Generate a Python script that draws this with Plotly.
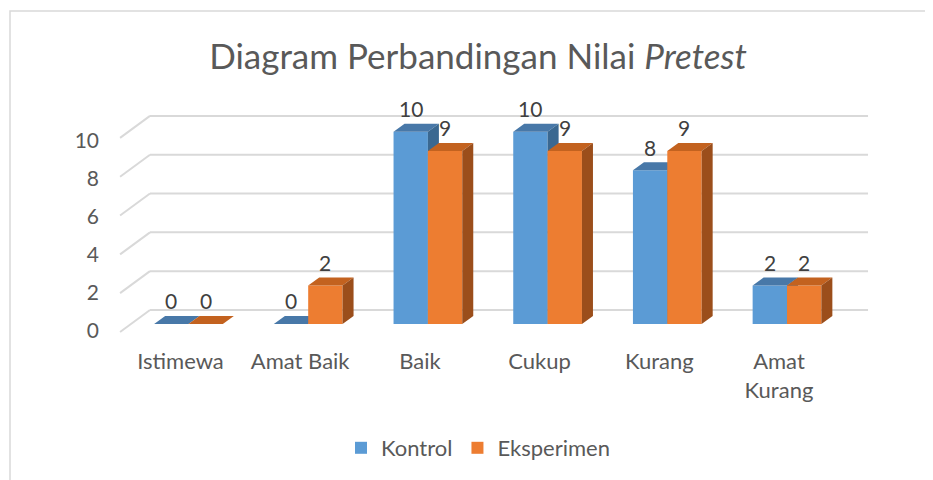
import plotly.graph_objects as go

# ---------------- data ----------------
categories = ["Istimewa", "Amat Baik", "Baik", "Cukup", "Kurang", "Amat Kurang"]
kontrol = [0, 0, 10, 10, 8, 2]
eksperimen = [0, 2, 9, 9, 9, 2]
y_tick_values = [0, 2, 4, 6, 8, 10]
series_names = ["Kontrol", "Eksperimen"]

# ---------------- styling ----------------
FONT = "Lato"
TXT = "#595959"
LBL = "#404040"
GRID = "#D9D9D9"
FRONT = ["#5B9BD5", "#ED7D31"]
TOP = ["#4878A8", "#C3621F"]
SIDE = ["#3A6891", "#9B4E1B"]

PAGE = 8   # body margin of the html page
ML, MT = 100 - PAGE, 100 - PAGE
PW, PH = 780, 246
W, H = 933, 480

BAR_W = 0.287
DX, DY = 0.092, 0.416
X_RANGE = [-0.7393, 5.7770]
Y_RANGE = [11.648 - PH / 19.23, 11.648]

idx = list(range(len(categories)))

fig = go.Figure()

def faces(values, sign, xa, ya, k):
    centers = [i + sign * BAR_W / 2 for i in idx]
    fig.add_trace(go.Bar(
        x=centers, y=values, width=BAR_W, name=series_names[k],
        marker=dict(color=FRONT[k], line=dict(width=0)),
        xaxis=xa, yaxis=ya, showlegend=True,
    ))
    tx, ty = [], []
    for c, v in zip(centers, values):
        x0, x1 = c - BAR_W / 2, c + BAR_W / 2
        tx += [x0, x1, x1 + DX, x0 + DX, x0, None]
        ty += [v, v, v + DY, v + DY, v, None]
    fig.add_trace(go.Scatter(x=tx, y=ty, fill="toself", fillcolor=TOP[k],
                             mode="lines", line=dict(width=0), hoverinfo="skip",
                             showlegend=False, xaxis=xa, yaxis=ya))
    sx, sy = [], []
    for c, v in zip(centers, values):
        x1 = c + BAR_W / 2
        sx += [x1, x1, x1 + DX, x1 + DX, x1, None]
        sy += [0, v, v + DY, DY, 0, None]
    fig.add_trace(go.Scatter(x=sx, y=sy, fill="toself", fillcolor=SIDE[k],
                             mode="lines", line=dict(width=0), hoverinfo="skip",
                             showlegend=False, xaxis=xa, yaxis=ya))
    for c, v in zip(centers, values):
        fig.add_annotation(x=c, y=v, xref=xa, yref=ya, text=str(v),
                           showarrow=False, yshift=23,
                           font=dict(family=FONT, size=21, color=LBL))

faces(kontrol, -1, "x", "y", 0)
faces(eksperimen, 1, "x2", "y2", 1)

BACK_X0, BACK_X1 = -0.3216, 5.677
DIAG_DX, DIAG_DY = -0.25, -1.144
for v in y_tick_values:
    yb = 0.73 + 1.009 * v
    fig.add_shape(type="line", xref="x", yref="y", x0=BACK_X0, x1=BACK_X1,
                  y0=yb, y1=yb, line=dict(color=GRID, width=2), layer="below")
    fig.add_shape(type="line", xref="x", yref="y", x0=BACK_X0, x1=BACK_X0 + DIAG_DX,
                  y0=yb, y1=yb + DIAG_DY, line=dict(color=GRID, width=2), layer="below")

# chart border (page px 10, 11)
fig.add_shape(type="rect", xref="paper", yref="paper",
              x0=(10 - PAGE - ML) / PW, x1=1.3, y0=-1.5,
              y1=(MT + PH - (11 - PAGE)) / PH,
              line=dict(color=GRID, width=1.5), layer="below")

fig.update_layout(
    width=W, height=H,
    margin=dict(l=ML, r=W - ML - PW, t=MT, b=H - MT - PH),
    paper_bgcolor="white", plot_bgcolor="white",
    barmode="overlay",
    title=dict(text="Diagram Perbandingan Nilai <i>Pretest</i>",
               x=(478 - PAGE) / W, xanchor="center", y=1 - (57 - PAGE) / H, yanchor="middle",
               font=dict(family=FONT, size=35, color=TXT)),
    xaxis=dict(range=X_RANGE, showgrid=False, zeroline=False, showline=False,
               tickmode="array", tickvals=[i - 0.067 for i in idx],
               ticktext=[c.replace(" Kurang", "<br>Kurang") for c in categories],
               tickfont=dict(family=FONT, size=22, color=TXT), ticks=""),
    yaxis=dict(range=Y_RANGE, showgrid=False, zeroline=False, showline=False,
               tickmode="array", tickvals=[-0.354 + 0.988 * v for v in y_tick_values],
               ticktext=[str(v) for v in y_tick_values],
               tickfont=dict(family=FONT, size=21, color=TXT), ticks=""),
    xaxis2=dict(range=X_RANGE, overlaying="x", visible=False),
    yaxis2=dict(range=Y_RANGE, overlaying="y", visible=False),
    legend=dict(orientation="h", x=(478 - PAGE - ML) / PW, xanchor="center",
                yref="container", y=1 - (448 - PAGE) / H, yanchor="middle",
                font=dict(family=FONT, size=22, color=TXT)),
    showlegend=True,
)

fig.write_html("out.html")
